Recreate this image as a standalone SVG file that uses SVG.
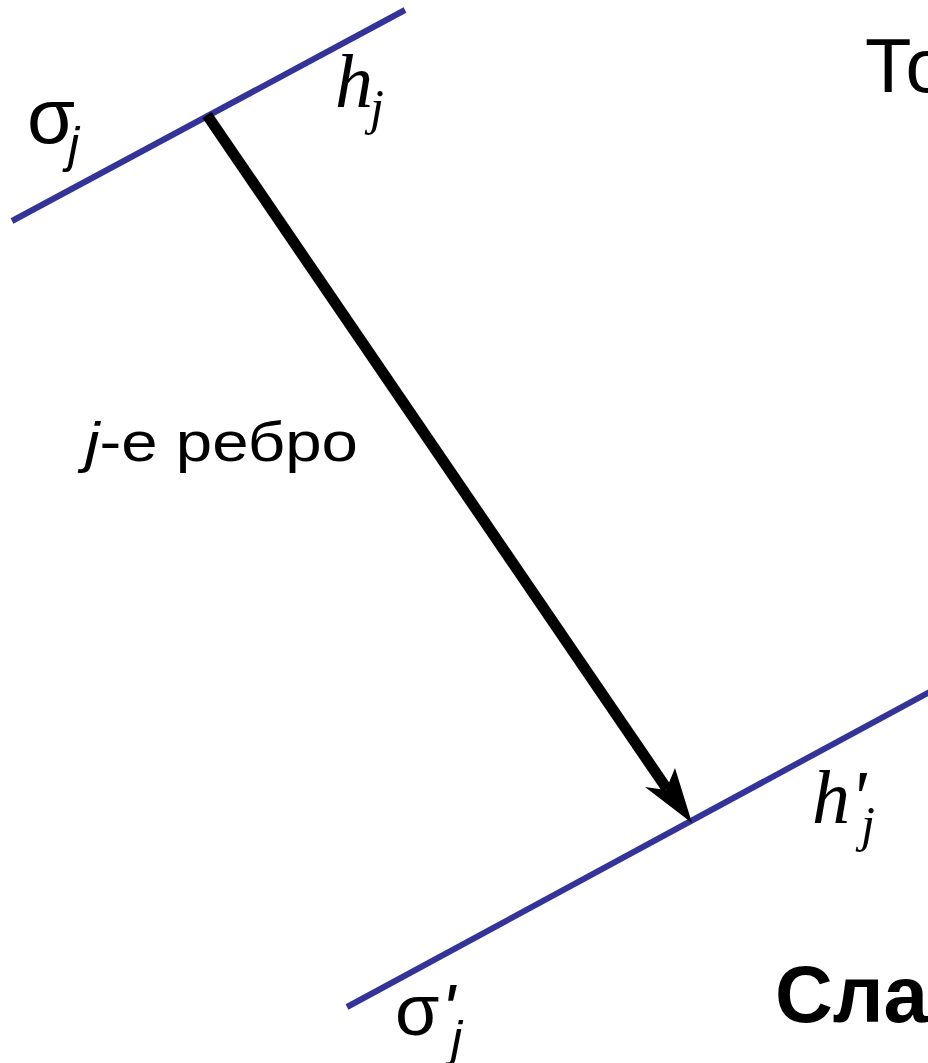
<svg xmlns="http://www.w3.org/2000/svg" width="928" height="1063" viewBox="0 0 928 1063">
<style>
.plane{stroke:#333399;stroke-width:6;fill:none}
.sans{font-family:"Liberation Sans",Arial,sans-serif;fill:#000}
.serif{font-family:"Liberation Serif","Times New Roman",serif;font-style:italic;fill:#000}
.it{font-style:italic}
</style>
<rect width="928" height="1063" fill="#fff"/>
<g id="plane-top"><line class="plane" x1="12" y1="221" x2="405" y2="10"/></g>
<g id="plane-bottom"><line class="plane" x1="347" y1="1007" x2="935" y2="689"/></g>
<g id="connectors">
<line x1="207" y1="115" x2="667" y2="789" stroke="#000" stroke-width="11"/>
<path d="M692,823 L645,787 L666,790 L675,768 Z" fill="#000"/>
</g>
<g id="label-sigma">
<text class="sans" x="27" y="143" font-size="78">σ</text>
<text class="sans it" x="68" y="162" font-size="50">j</text>
</g>
<g id="label-h">
<text class="serif" x="335" y="107" font-size="76">h</text>
<text class="serif" x="370" y="124" font-size="50">j</text>
</g>
<g id="label-edge"><text class="sans" x="85" y="461" font-size="55" textLength="273" lengthAdjust="spacingAndGlyphs"><tspan class="it">j</tspan>-е ребро</text></g>
<g id="label-hprime">
<text class="serif" x="812" y="823" font-size="76">h</text>
<text class="serif" x="850" y="823" font-size="76">'</text>
<text class="serif" x="861" y="841" font-size="50">j</text>
</g>
<g id="label-sigmaprime">
<text class="sans" x="395" y="1035" font-size="72">σ</text>
<text class="sans it" x="441" y="1035" font-size="72">'</text>
<text class="sans it" x="451" y="1056" font-size="50">j</text>
</g>
<g id="title"><text class="sans" x="865" y="92" font-size="76">То</text></g>
<g id="subtitle"><text class="sans" x="775" y="1022" font-size="80" font-weight="bold">Слайд</text></g>
</svg>
